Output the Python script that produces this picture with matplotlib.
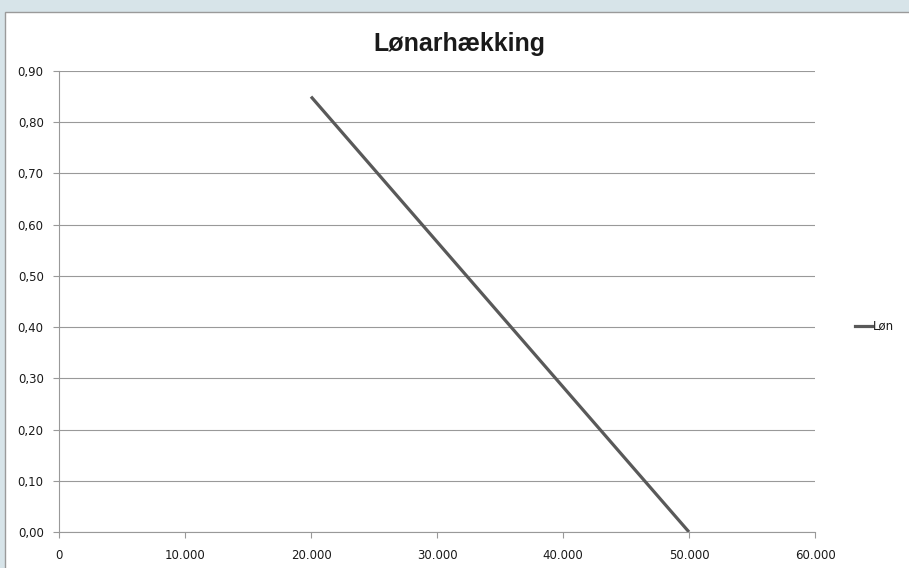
import matplotlib.pyplot as plt
from matplotlib.ticker import FuncFormatter
from matplotlib.patches import Rectangle
from matplotlib.lines import Line2D

# data
loen_x = [20000, 50000]
loen_y = [0.85, 0.00]
series_name = 'Løn'
title = 'Lønarhækking'

x_ticks = [0, 10000, 20000, 30000, 40000, 50000, 60000]
y_ticks = [0.0, 0.1, 0.2, 0.3, 0.4, 0.5, 0.6, 0.7, 0.8, 0.9]

W, H = 909, 568
fig = plt.figure(figsize=(W / 100, H / 100), dpi=100)
fig.patch.set_facecolor('#d7e4e9')

# white chart panel with grey top/left border
panel = Rectangle((5 / W, -0.01), 1, 1.01 - 12 / H, transform=fig.transFigure,
                  facecolor='white', edgecolor='#9a9a9a', linewidth=1.0, zorder=-5)
fig.patches.append(panel)

ax = fig.add_axes([59 / W, 1 - 532 / H, (815 - 59) / W, (532 - 71) / H])
ax.set_facecolor('none')
ax.set_zorder(2)

ax.plot(loen_x, loen_y, color='#595959', linewidth=2.3, solid_capstyle='butt')

ax.set_xlim(0, 60000)
ax.set_ylim(0, 0.9)
ax.set_xticks(x_ticks)
ax.set_yticks(y_ticks)
ax.xaxis.set_major_formatter(FuncFormatter(lambda v, p: f'{int(v):,}'.replace(',', '.')))
ax.yaxis.set_major_formatter(FuncFormatter(lambda v, p: f'{v:.2f}'.replace('.', ',')))

ax.grid(axis='y', color='#999999', linewidth=0.8)
ax.set_axisbelow(True)
for s in ['top', 'right']:
    ax.spines[s].set_visible(False)
for s in ['left', 'bottom']:
    ax.spines[s].set_color('#999999')
    ax.spines[s].set_linewidth(0.8)

ax.tick_params(axis='both', colors='#999999', labelcolor='#1a1a1a', labelsize=8.5,
               length=4, width=0.8)
ax.tick_params(axis='x', pad=8)
ax.tick_params(axis='y', pad=7)

fig.text(459 / W, 1 - 44 / H, title, ha='center', va='center', fontsize=18,
         fontweight='bold', family=['Liberation Sans Narrow', 'Liberation Sans', 'DejaVu Sans'],
         color='#1a1a1a')

# legend
fig.add_artist(Line2D([855 / W, 872 / W], [1 - 326 / H, 1 - 326 / H],
                      transform=fig.transFigure, color='#595959', linewidth=2.3))
fig.text(873 / W, 1 - 326 / H, series_name, ha='left', va='center', fontsize=8.5,
         color='#1a1a1a')

fig.savefig('out.png', dpi=100, facecolor=fig.get_facecolor())
